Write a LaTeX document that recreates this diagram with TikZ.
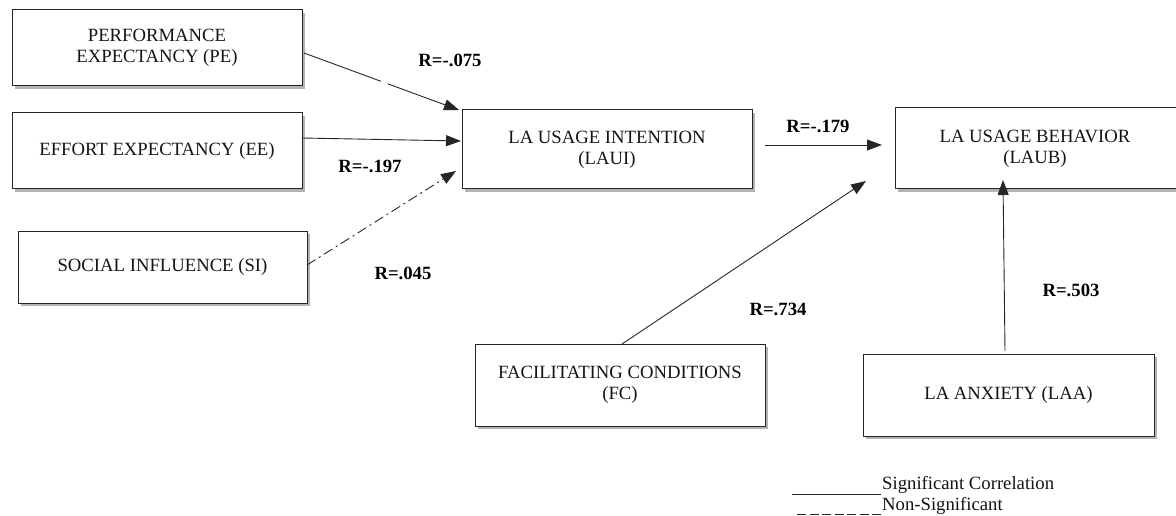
\documentclass[tikz,border=0pt]{standalone}
\usepackage{fontspec}
\setmainfont{Liberation Serif}
\usetikzlibrary{arrows.meta,shadows}
\tikzset{
  box/.style={draw=black!85, line width=1pt, fill=white, inner sep=0pt, align=center,
    font=\fontsize{18.7}{21}\selectfont, text=black!92,
    drop shadow={shadow xshift=2.5pt, shadow yshift=-3pt, fill=black!50, opacity=0.6}},
  lbl/.style={font=\fontsize{18.7}{21}\selectfont\bfseries, text=black},
  conn/.style={draw=black!85, line width=0.9pt, -{Triangle[length=15pt,width=11pt]}},
  legtxt/.style={font=\fontsize{18.7}{21}\selectfont, text=black!92, anchor=west, inner sep=0pt}
}
\begin{document}
\begin{tikzpicture}[x=1pt,y=-1pt]
\useasboundingbox (0,0) rectangle (1176,516);
\node[box, minimum width=290pt, minimum height=76pt] (pe) at (157,48) {PERFORMANCE\\EXPECTANCY (PE)};
\node[box, minimum width=290pt, minimum height=76pt] (ee) at (157,151) {EFFORT EXPECTANCY (EE)};
\node[box, minimum width=289pt, minimum height=72pt] (si) at (162.5,267) {SOCIAL INFLUENCE (SI)};
\node[box, minimum width=290pt, minimum height=79pt] (laui) at (607,149.5) {LA USAGE INTENTION\\(LAUI)};
\node[box, minimum width=300pt, minimum height=81pt] (laub) at (1045,148.5) {\hspace*{-20pt}LA USAGE BEHAVIOR\\\hspace*{-20pt}(LAUB)};
\node[box, minimum width=290pt, minimum height=82pt] (fc) at (620,385) {FACILITATING CONDITIONS\\(FC)};
\node[box, minimum width=291pt, minimum height=82pt] (laa) at (1008.5,395) {LA ANXIETY (LAA)};

\coordinate (pes) at (304,53);
\coordinate (pet) at (459,110);
\draw[conn, dash pattern=on 82pt off 7pt] (pes) -- (pet);
\coordinate (ees) at (302,138);
\coordinate (eet) at (461,141);
\draw[conn] (ees) -- (eet);
\coordinate (sis) at (307,265);
\coordinate (sit) at (456,171);
\draw[conn, dash pattern=on 10pt off 4pt on 2pt off 4pt] (sis) -- (sit);
\coordinate (luis) at (765,145);
\coordinate (luit) at (882,145);
\draw[conn] (luis) -- (luit);
\coordinate (fcs) at (622,344);
\coordinate (fct) at (866,181);
\draw[conn] (fcs) -- (fct);
\coordinate (laas) at (1005,351);
\coordinate (laat) at (1003,180);
\draw[conn] (laas) -- (laat);

\node[lbl] (l1) at (450,60) {R=-.075};
\node[lbl] (l2) at (370,166) {R=-.197};
\node[lbl] (l3) at (403,273) {R=.045};
\node[lbl] (l4) at (818,126) {R=-.179};
\node[lbl] (l5) at (778,309) {R=.734};
\node[lbl] (l6) at (1071,290) {R=.503};

\coordinate (sg1) at (792,494);
\coordinate (sg2) at (881,494);
\draw[black!85, line width=0.9pt] (sg1) -- (sg2);
\node[legtxt] (sgt) at (882,485) {Significant Correlation};
\coordinate (ns1) at (797,514);
\coordinate (ns2) at (881,514);
\draw[black!85, line width=0.9pt, dash pattern=on 9pt off 3.5pt] (ns1) -- (ns2);
\node[legtxt] (nst) at (882,506) {Non-Significant};
\end{tikzpicture}
\end{document}
